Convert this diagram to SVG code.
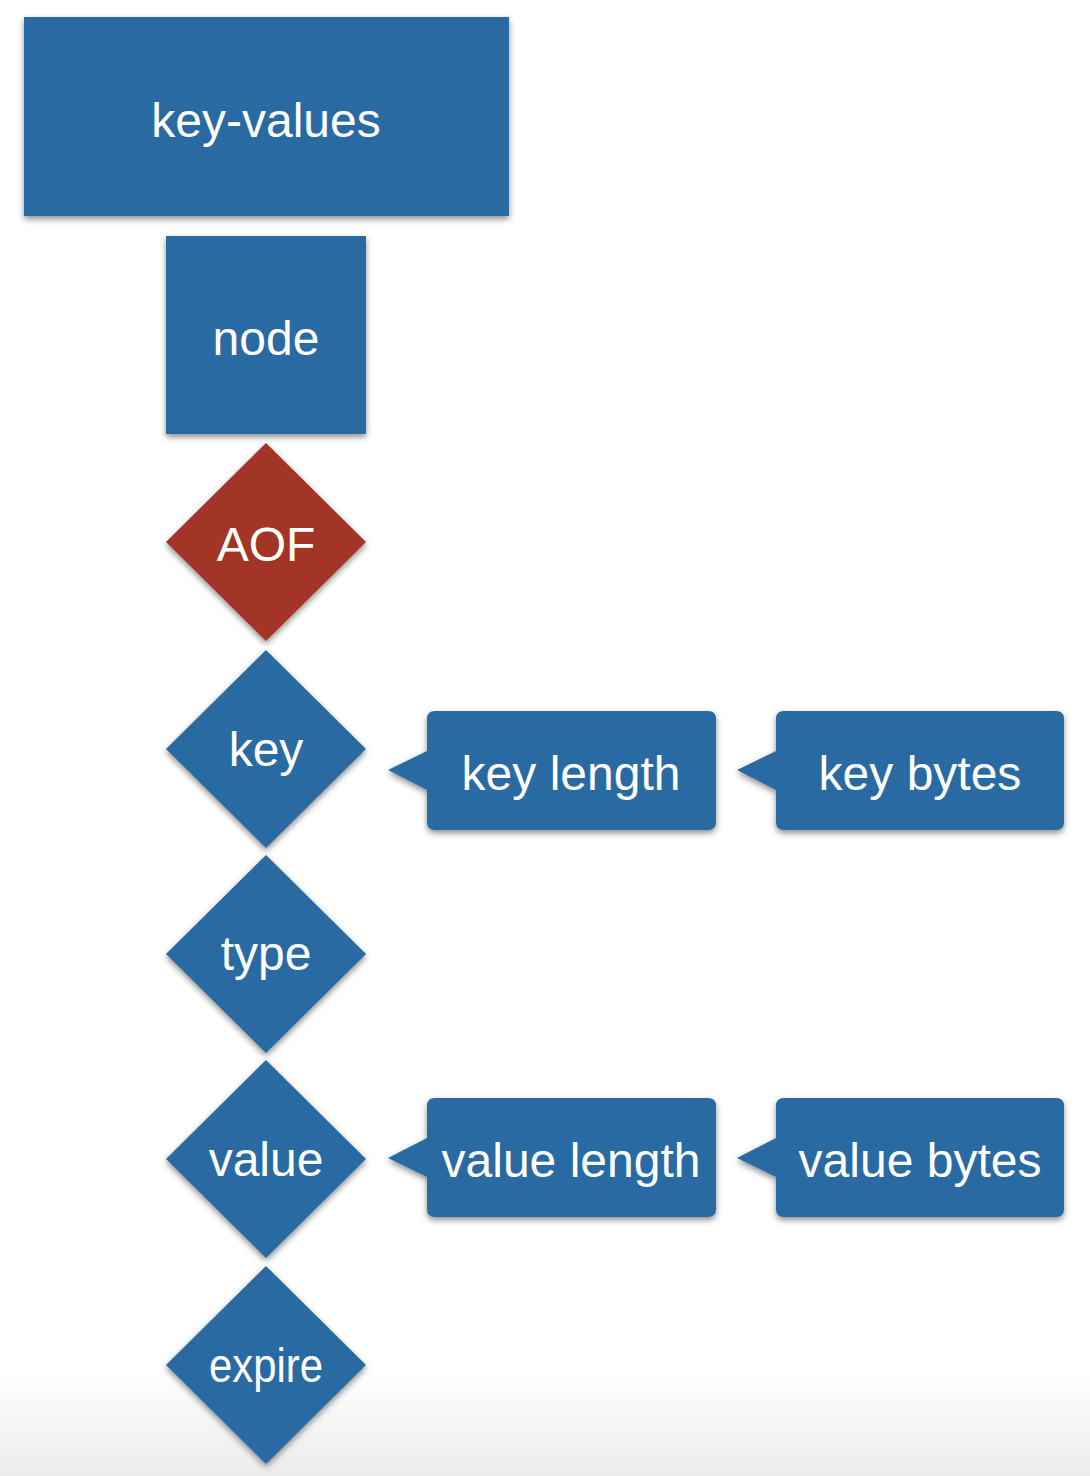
<svg xmlns="http://www.w3.org/2000/svg" width="1090" height="1476" viewBox="0 0 1090 1476">
<defs>
<linearGradient id="bg" x1="0" y1="0" x2="0" y2="1">
<stop offset="0" stop-color="#ffffff"/>
<stop offset="1" stop-color="#ececec"/>
</linearGradient>
<filter id="sh" x="-10%" y="-10%" width="120%" height="125%">
<feDropShadow dx="0" dy="3" stdDeviation="3" flood-color="#000" flood-opacity="0.45"/>
</filter>
</defs>
<style>
.blue{fill:#2a6ba2;filter:url(#sh);}
.red{fill:#a23428;filter:url(#sh);}
.t{font-family:"Liberation Sans",Arial,sans-serif;font-size:48px;fill:#ffffff;text-anchor:middle;}
</style>
<rect x="0" y="0" width="1090" height="1476" fill="#ffffff"/>
<rect x="0" y="1370" width="1090" height="106" fill="url(#bg)"/>
<g id="connectors"></g>
<g id="key-values">
<rect class="blue" x="24" y="17" width="485" height="199"/>
<text class="t" x="266" y="137">key-values</text>
</g>
<g id="node">
<rect class="blue" x="166" y="236" width="200" height="198"/>
<text class="t" x="266" y="355">node</text>
</g>
<g id="aof">
<polygon class="red" points="266,443 366,542 266,641 166,542"/>
<text class="t" x="266" y="561">AOF</text>
</g>
<g id="key">
<polygon class="blue" points="266,650 366,749 266,848 166,749"/>
<text class="t" x="266" y="766">key</text>
</g>
<g id="type">
<polygon class="blue" points="266,855 366,954 266,1053 166,954"/>
<text class="t" x="266" y="970">type</text>
</g>
<g id="value">
<polygon class="blue" points="266,1060 366,1159 266,1258 166,1159"/>
<text class="t" x="266" y="1176">value</text>
</g>
<g id="expire">
<polygon class="blue" points="266,1266 366,1365 266,1464 166,1365"/>
<text class="t" x="266" y="1382" textLength="114" lengthAdjust="spacingAndGlyphs">expire</text>
</g>
<g id="key-length">
<path class="blue" d="M435,711 H708 Q716,711 716,719 V822 Q716,830 708,830 H435 Q427,830 427,822 V790 L388,770 L427,751 V719 Q427,711 435,711 Z"/>
<text class="t" x="571" y="790">key length</text>
</g>
<g id="key-bytes">
<path class="blue" d="M784,711 H1056 Q1064,711 1064,719 V822 Q1064,830 1056,830 H784 Q776,830 776,822 V790 L737,770 L776,751 V719 Q776,711 784,711 Z"/>
<text class="t" x="920" y="790">key bytes</text>
</g>
<g id="value-length">
<path class="blue" d="M435,1098 H708 Q716,1098 716,1106 V1209 Q716,1217 708,1217 H435 Q427,1217 427,1209 V1177 L388,1158 L427,1138 V1106 Q427,1098 435,1098 Z"/>
<text class="t" x="571" y="1177">value length</text>
</g>
<g id="value-bytes">
<path class="blue" d="M784,1098 H1056 Q1064,1098 1064,1106 V1209 Q1064,1217 1056,1217 H784 Q776,1217 776,1209 V1177 L737,1158 L776,1138 V1106 Q776,1098 784,1098 Z"/>
<text class="t" x="920" y="1177">value bytes</text>
</g>
</svg>
